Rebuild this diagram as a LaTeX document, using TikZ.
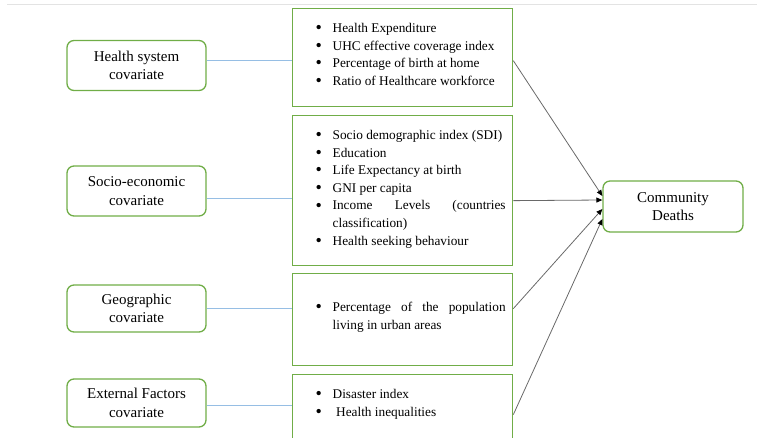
\documentclass[tikz,border=0pt]{standalone}
\usepackage{fontspec}
\setmainfont{Liberation Serif}
\usetikzlibrary{arrows.meta}

\definecolor{boxgreen}{RGB}{112,173,71}
\definecolor{linkblue}{RGB}{150,190,228}
\definecolor{feedgray}{RGB}{105,105,105}

% one bulleted line of a list box
\newcommand{\listitem}[1]{\par\hangindent=17pt\noindent\hbox to 17pt{\raisebox{-1.2pt}{\fontsize{18}{18}\selectfont\textbullet}\hfil}\strut#1\par}
% fixed-height list, text at the top
\newcommand{\itemblock}[2]{\parbox[t][#1][t]{206pt}{\leftskip=16pt\hyphenpenalty=10000\tolerance=9999 #2}}

\begin{document}
\begin{tikzpicture}[x=1pt, y=-1pt,
	sidebox/.style={draw=boxgreen, line width=1.3pt, rounded corners=7pt, minimum width=139pt, minimum height=50pt, align=center, font=\fontsize{15}{18.5}\selectfont},
	listbox/.style={draw=boxgreen, line width=1.3pt, anchor=north west, inner xsep=7pt, inner ysep=11.5pt, font=\fontsize{13.3}{17.6}\selectfont},
	link/.style={draw=linkblue, line width=0.8pt},
	feed/.style={draw=feedgray, line width=0.8pt, -{Triangle[length=6pt, width=5pt, color=black]}}]
	\useasboundingbox (0,0) rectangle (757,438);
	\clip (0,0) rectangle (757,438);
	\draw[gray!22, line width=1.5pt] (7,4.5) -- (757,4.5);

	% covariate groups
	\node[sidebox] (hs) at (136.5,65.5) {Health system\\covariate};
	\node[sidebox] (se) at (136.5,191) {Socio-economic\\covariate};
	\node[sidebox, minimum height=47pt] (geo) at (136.5,308.5) {Geographic\\covariate};
	\node[sidebox, minimum height=48pt] (ext) at (136.5,403) {External Factors\\covariate};

	% indicator lists
	\node[listbox] (hsl) at (292,8) {\itemblock{75pt}{%
		\listitem{Health Expenditure}
		\listitem{UHC effective coverage index}
		\listitem{Percentage of birth at home}
		\listitem{Ratio of Healthcare workforce}}};
	\node[listbox] (sel) at (292,115) {\itemblock{127pt}{%
		\listitem{Socio demographic index (SDI)}
		\listitem{Education}
		\listitem{Life Expectancy at birth}
		\listitem{GNI per capita}
		\listitem{Income Levels (countries classification)}
		\listitem{Health seeking behaviour}}};
	\node[listbox] (geol) at (292,273) {\itemblock{69pt}{%
		\vspace*{14pt}
		\listitem{Percentage of the population living in urban areas}}};
	\node[listbox] (extl) at (292,374) {\itemblock{77pt}{%
		\listitem{Disaster index}
		\listitem{\hspace{3.5pt}Health inequalities}}};

	% outcome
	\node[sidebox, minimum width=140pt, minimum height=51pt] (cd) at (673,206.5) {Community\\Deaths};

	% groups to lists
	\draw[link] ([yshift=5.5pt]hs.east) -- ([yshift=5.5pt]hs.east -| hsl.west);
	\draw[link] ([yshift=-7pt]se.east) -- ([yshift=-7pt]se.east -| sel.west);
	\draw[link] (geo.east) -- (geo.east -| geol.west);
	\draw[link] ([yshift=-2.5pt]ext.east) -- ([yshift=-2.5pt]ext.east -| extl.west);

	% lists to outcome
	\draw[feed] ([yshift=-3pt]hsl.east) -- ([yshift=10.5pt]cd.west);
	\draw[feed] ([yshift=-10pt]sel.east) -- ([yshift=6.5pt]cd.west);
	\draw[feed] ([yshift=11pt]geol.east) -- ([yshift=-2.5pt]cd.west);
	\draw[feed] ([yshift=10pt]extl.east) -- ([yshift=-12.5pt]cd.west);
\end{tikzpicture}
\end{document}
